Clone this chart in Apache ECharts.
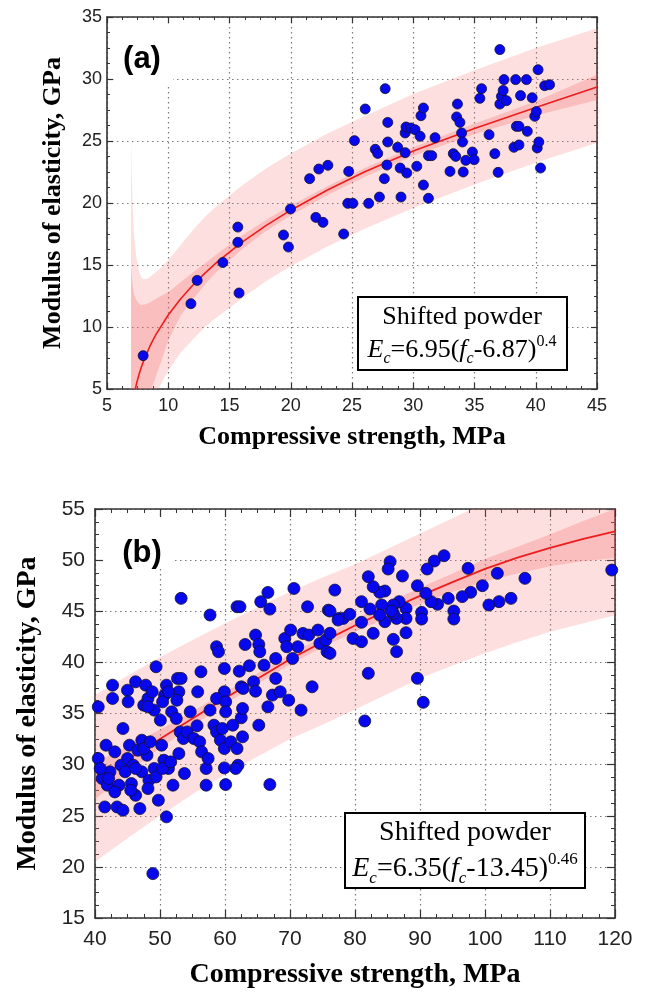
<!DOCTYPE html>
<html><head><meta charset="utf-8">
<script src="https://cdn.jsdelivr.net/npm/echarts@6/dist/echarts.min.js"></script>
<style>html,body{margin:0;padding:0;background:#fff}#c{width:648px;height:992px}</style>
</head><body><div id="c"></div>
<script>
// ---------- Chart (a) data ----------
const xTicksA = [5, 45, 5];    // min, max, interval
const yTicksA = [5, 35, 5];
const ptsXA = [7.95,11.85,12.36,14.46,15.68,15.68,15.78,19.41,19.81,19.98,21.54,22.05,22.29,22.63,23.03,24.32,24.73,24.66,25.07,25.2,26.08,26.36,26.9,27.1,27.24,27.71,27.92,27.92,27.85,27.64,28.73,28.93,29.0,29.34,29.34,29.41,29.47,29.81,30.15,30.29,30.56,30.63,30.83,30.83,31.24,31.24,31.51,31.78,33.0,33.27,33.47,33.54,33.61,33.81,33.95,34.02,34.08,34.29,34.83,34.97,35.44,35.58,36.19,36.66,36.93,37.07,37.07,37.2,37.34,37.41,37.61,38.22,38.36,38.42,38.63,38.63,38.76,39.24,39.31,39.71,39.92,40.05,40.12,40.19,40.25,40.39,40.73,41.13];
const ptsYA = [7.69,11.88,13.76,15.2,18.06,16.83,12.74,17.42,16.45,19.52,21.96,18.84,22.74,18.44,23.04,17.5,22.55,19.97,19.97,25.03,27.58,19.97,24.33,24.0,20.48,29.22,26.5,24.92,23.06,21.96,24.49,22.82,20.48,24.06,25.65,26.13,22.42,26.05,25.91,22.96,25.38,27.04,27.66,21.45,20.38,23.82,23.82,25.27,22.55,23.98,23.76,26.94,27.98,26.5,25.65,24.92,22.5,23.44,24.11,23.49,28.44,29.22,25.51,23.98,22.47,32.37,27.98,28.6,29.08,29.95,28.25,24.49,29.95,26.18,24.68,26.18,28.66,29.95,25.78,28.49,26.99,27.37,24.44,30.75,24.92,22.82,29.46,29.54];
const fitXA = [7.2,7.4,7.6,7.8,8,8.5,9,10,11,12,13,14,16,18,20,23,26,30,35,40,45];
const fitYA = [4.46,5.39,6.13,6.75,7.30,8.45,9.40,10.97,12.26,13.37,14.35,15.25,16.83,18.2,19.42,21.05,22.5,24.2,26.0,27.7,29.35];
const bandXA  = [6.96,7.0,7.1,7.2,7.4,7.6,7.8,8.0,8.3,8.7,9.2,10,11,12,13,14,16,18,20,23,26,30,35,40,45];
const predHiA = [25.6,23.0,19.5,17.5,15.6,14.6,14.0,13.85,13.9,14.2,14.6,15.4,16.6,17.8,18.9,19.8,21.4,22.8,24.0,25.6,27.0,28.8,30.7,32.5,34.1];
const predLoA = [0,0,0,0,0,0,0.5,1.5,2.7,4.0,5.0,6.5,7.9,9.0,10.0,10.8,12.3,13.7,14.9,16.5,17.9,19.6,21.5,23.25,24.86];
const confHiA = [15.0,14.3,13.3,12.7,12.15,11.9,11.77,11.8,11.9,12.1,12.4,12.8,13.6,14.4,15.15,15.9,17.35,18.65,19.8,21.35,22.8,24.5,26.4,28.2,30.35];
const confLoA = [0,0,0,0,0,1.2,2.6,3.5,4.4,5.2,6.6,8.9,10.9,12.2,13.45,14.5,16.25,17.75,19.0,20.65,22.1,23.8,25.55,27.05,28.3];

// ---------- Chart (b) data ----------
const xTicksB = [40, 120, 10];
const yTicksB = [15, 55, 5];
const ptsXB = [53.25,57.7,61.85,62.3,65.5,66.6,66.9,70.6,72.7,75.9,76.9,77.5,78.2,79.2,79.7,63.1,64.7,65.2,65.35,63.75,66.0,67.8,69.2,69.5,70.1,70.4,71.2,72.0,72.9,74.3,74.6,75.5,75.7,58.7,59.0,59.9,62.2,64.4,64.7,62.5,59.9,56.3,55.8,58.7,60.1,49.4,66.6,67.3,67.8,68.5,69.8,71.7,73.4,65.2,66.9,60.1,62.5,62.7,62.7,62.0,61.65,40.5,40.5,41.1,41.7,41.9,41.5,42.7,42.7,43.05,42.3,43.7,43.4,44.3,44.3,44.0,45.0,45.1,45.3,45.0,45.6,45.9,46.25,46.6,46.25,47.2,47.2,46.9,47.5,47.8,48.15,48.0,48.3,48.8,49.1,49.1,49.75,50.06,50.25,50.6,50.7,51.0,51.0,51.3,51.8,52.0,52.5,52.7,52.9,53.1,53.25,52.9,53.76,53.6,54.2,54.65,55.2,55.7,56.1,56.4,57.1,57.1,57.4,57.7,58.3,58.7,59.3,59.6,59.9,59.9,60.1,60.9,61.2,61.85,62.8,48.9,40.8,42.1,43.05,44.65,46.25,47.5,48.5,49.4,50.4,51.65,48.15,45.5,50.4,51.3,52.6,48.15,
  119.5,106.15,104.0,102.15,101.9,100.6,99.6,97.8,97.4,96.5,95.2,95.2,94.35,93.7,92.7,92.2,91.7,91.1,90.9,90.25,90.25,89.6,90.5,89.6,87.85,87.85,87.85,87.3,86.8,86.4,86.4,85.9,85.9,85.9,85.4,85.1,85.6,84.6,84.6,83.8,84.1,83.8,82.8,82.3,82.8,82.05,81.0,81.0,81.0,77.4,76.15,76.15,76.15,82.05,81.5];
const ptsYB = [46.26,44.63,45.44,45.44,45.93,46.84,45.21,47.23,45.44,45.11,47.07,44.3,44.3,44.7,42.34,41.75,42.67,41.75,41.04,39.67,39.73,40.38,42.34,41.53,43.16,40.38,41.53,42.83,42.67,43.16,41.85,42.18,41.04,41.53,41.04,39.4,39.14,38.1,37.18,37.61,37.12,39.08,37.12,36.47,36.14,39.57,35.65,36.8,38.43,37.12,36.3,35.33,37.61,33.86,28.05,28.05,34.58,35.49,32.72,29.94,29.62,35.65,30.6,28.64,31.9,27.99,25.86,37.77,36.47,31.25,29.3,27.99,25.86,33.53,25.54,29.94,37.28,36.14,31.9,30.6,28.15,29.94,27.0,31.41,38.1,32.39,29.3,25.7,35.81,37.77,36.47,30.92,28.47,37.12,35.33,29.62,26.52,34.35,31.9,30.43,36.8,37.77,24.89,29.62,35.16,27.99,34.51,38.43,37.12,33.2,38.43,31.08,29.13,32.55,33.2,35.16,32.55,33.8,32.23,31.25,27.99,29.62,30.6,35.33,33.86,33.2,32.39,33.53,31.57,29.68,35.16,32.23,33.86,31.57,37.45,19.34,29.62,28.64,27.33,29.3,29.62,31.57,32.23,28.8,29.62,30.27,27.66,27.5,36.14,37.12,36.3,35.65,
  49.03,48.22,46.26,45.94,48.71,45.61,47.5,46.85,49.2,46.43,45.02,44.24,46.26,50.43,45.68,49.91,45.94,49.13,46.75,44.89,44.24,47.5,36.09,38.44,45.28,44.3,42.9,48.45,45.94,44.3,41.05,45.61,44.8,42.25,49.85,49.13,45.02,46.98,43.98,46.85,45.61,44.63,47.4,45.22,42.84,48.38,45.94,43.92,42.02,44.14,45.02,42.84,40.88,38.93,34.27];
const bandXB  = [40,45,50,55,60,65,70,75,80,85,90,95,100,105,110,115,120];
const fitYB   = [28.4,30.5,32.5,34.5,36.5,38.4,40.3,42.0,43.6,45.1,46.5,47.85,49.15,50.25,51.2,52.05,52.8];
const predHiB = [36.8,38.7,40.5,42.2,43.8,45.4,46.9,48.3,49.6,51.1,52.6,54.1,55.6,56.9,58.1,59.2,60.3];
const predLoB = [20.5,22.8,25.0,27.1,29.0,30.8,32.5,33.9,35.4,36.9,38.45,39.7,40.9,42.0,43.0,43.8,44.6];
const confHiB = [30.2,31.8,33.4,35.2,37.1,38.9,40.8,42.5,44.2,45.8,47.3,48.7,50.1,51.3,52.5,53.8,55.0];
const confLoB = [26.6,29.2,31.6,33.8,35.9,37.9,39.8,41.5,43.0,44.4,45.7,46.9,47.9,48.7,49.4,49.9,50.2];

// ---------- builders ----------
const AX = '#333';
const zip = (a, b) => a.map((v, i) => [v, b[i]]);
function xAx(g, t, top, o) {
  return {
    type: 'value', gridIndex: g, position: top ? 'top' : 'bottom',
    min: t[0], max: t[1], interval: t[2],
    axisLine: { show: true, onZero: false, lineStyle: { color: AX, width: 1.6 } },
    axisTick: { show: true, inside: true, length: o.tick, lineStyle: { color: AX, width: 1.2 } },
    minorTick: { show: true, splitNumber: 4, length: o.tick / 2, lineStyle: { color: AX, width: 1 } },
    axisLabel: { show: !top, margin: o.margin, fontSize: o.fs, fontFamily: 'Liberation Sans', color: '#222' },
    splitLine: { show: !top, lineStyle: { color: '#7a7a7a', type: [1.5, 3.5], width: 1.2 } },
    name: top ? '' : o.name, nameLocation: 'middle', nameGap: o.gap,
    nameTextStyle: { fontFamily: 'Liberation Serif', fontWeight: 'bold', fontSize: o.ns, color: '#000' }
  };
}
function yAx(g, t, right, o) {
  const a = xAx(g, t, right, o);
  a.position = right ? 'right' : 'left';
  a.nameRotate = 90;
  return a;
}
function band(xs, lo, hi, xi, yi, color) {
  const pts = zip(xs, hi).concat(zip(xs, lo).reverse());
  const mid = Math.floor(xs.length / 2);
  return {
    type: 'custom', xAxisIndex: xi, yAxisIndex: yi, silent: true, z: 1, clip: true,
    data: [[xs[mid], (lo[mid] + hi[mid]) / 2]],
    renderItem: function (params, api) {
      const cs = params.coordSys;
      return {
        type: 'polygon',
        shape: { points: pts.map(p => api.coord(p)) },
        style: { fill: color },
        clipPath: { type: 'rect', shape: { x: cs.x, y: cs.y, width: cs.width, height: cs.height } }
      };
    }
  };
}
function fitLine(xs, ys, xi, yi, w) {
  return { type: 'line', xAxisIndex: xi, yAxisIndex: yi, data: zip(xs, ys), symbol: 'none', silent: true,
    smooth: false, clip: true, z: 3, lineStyle: { color: '#ee1d1d', width: w } };
}
function pts(xs, ys, xi, yi, size) {
  return { type: 'scatter', xAxisIndex: xi, yAxisIndex: yi, data: zip(xs, ys), symbolSize: size, z: 4, silent: true,
    itemStyle: { color: '#0808ee', borderColor: '#101030', borderWidth: 0.8, opacity: 1 } };
}
const PRED = 'rgba(250,110,110,0.22)';
const CONF = 'rgba(240,90,90,0.25)';

const oA = { tick: 6, margin: 8, fs: 18, ns: 26, name: 'Compressive strength, MPa', gap: 35 };
const oAy = { tick: 6, margin: 5, fs: 18, ns: 26, name: 'Modulus of elasticity, GPa', gap: 41 };
const oB = { tick: 8, margin: 11, fs: 21, ns: 28, name: 'Compressive strength, MPa', gap: 43 };
const oBy = { tick: 8, margin: 10, fs: 21, ns: 28, name: 'Modulus of elasticity, GPa', gap: 53 };

const serif = 'Liberation Serif';
function eqRich(fs, lh, sfs) {
  return {
    t: { fontSize: fs, fontFamily: serif, fill: '#000', lineHeight: lh },
    n: { fontSize: fs, fontFamily: serif, fill: '#000', lineHeight: lh },
    i: { fontSize: fs, fontFamily: serif, fontStyle: 'italic', fill: '#000', lineHeight: lh },
    si: { fontSize: sfs, fontFamily: serif, fontStyle: 'italic', fill: '#000', lineHeight: 20, verticalAlign: 'bottom' },
    p: { fontSize: sfs, fontFamily: serif, fill: '#000', lineHeight: 22, verticalAlign: 'top' }
  };
}

const option = {
  animation: false,
  backgroundColor: '#fff',
  grid: [
    { left: 107, top: 17, width: 490, height: 372 },
    { left: 95, top: 509, width: 520, height: 409 }
  ],
  xAxis: [xAx(0, xTicksA, false, oA), xAx(0, xTicksA, true, oA), xAx(1, xTicksB, false, oB), xAx(1, xTicksB, true, oB)],
  yAxis: [yAx(0, yTicksA, false, oAy), yAx(0, yTicksA, true, oAy), yAx(1, yTicksB, false, oBy), yAx(1, yTicksB, true, oBy)],
  series: [
    band(bandXA, predLoA, predHiA, 0, 0, PRED),
    band(bandXA, confLoA, confHiA, 0, 0, CONF),
    fitLine(fitXA, fitYA, 0, 0, 1.6),
    pts(ptsXA, ptsYA, 0, 0, 10),
    band(bandXB, predLoB, predHiB, 2, 2, PRED),
    band(bandXB, confLoB, confHiB, 2, 2, CONF),
    fitLine(bandXB, fitYB, 2, 2, 1.8),
    pts(ptsXB, ptsYB, 2, 2, 12)
  ],
  graphic: [
    { type: 'rect', z: 10, shape: { x: 114, y: 24, width: 59, height: 63 }, style: { fill: '#fff' } },
    { type: 'text', z: 11, x: 142, y: 59, style: { text: '(a)', font: 'bold 31px "Liberation Sans"', fill: '#000',
      align: 'center', verticalAlign: 'middle', textAlign: 'center', textVerticalAlign: 'middle' } },
    { type: 'rect', z: 10, shape: { x: 103, y: 517, width: 70, height: 51 }, style: { fill: '#fff' } },
    { type: 'text', z: 11, x: 142, y: 553, style: { text: '(b)', font: 'bold 31px "Liberation Sans"', fill: '#000',
      align: 'center', verticalAlign: 'middle', textAlign: 'center', textVerticalAlign: 'middle' } },
    { type: 'rect', z: 10, shape: { x: 358, y: 297, width: 209, height: 73 }, style: { fill: '#fff', stroke: '#000', lineWidth: 2 } },
    { type: 'text', z: 11, x: 462, y: 334, style: {
      text: '{t|Shifted powder}\n{i|E}{si|c}{n|=6.95(}{i|f}{si|c}{n|-6.87)}{p|0.4}',
      rich: eqRich(26, 33, 16), align: 'center', verticalAlign: 'middle', textAlign: 'center', textVerticalAlign: 'middle' } },
    { type: 'rect', z: 10, shape: { x: 345, y: 813, width: 240, height: 75 }, style: { fill: '#fff', stroke: '#000', lineWidth: 2 } },
    { type: 'text', z: 11, x: 465, y: 851, style: {
      text: '{t|Shifted powder}\n{i|E}{si|c}{n|=6.35(}{i|f}{si|c}{n|-13.45)}{p|0.46}',
      rich: eqRich(28, 36, 17), align: 'center', verticalAlign: 'middle', textAlign: 'center', textVerticalAlign: 'middle' } }
  ]
};
const chart = echarts.init(document.getElementById('c'), null, { renderer: 'canvas' });
chart.setOption(option);
</script></body></html>
